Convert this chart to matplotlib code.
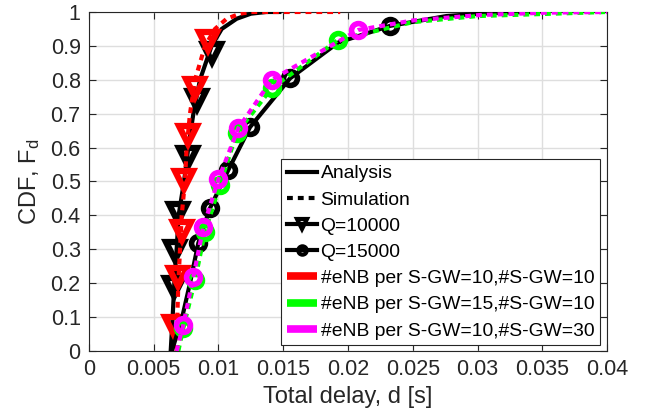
import matplotlib
matplotlib.use('Agg')
import matplotlib.pyplot as plt
from matplotlib.lines import Line2D

plt.rcParams['font.family'] = ['Liberation Sans', 'DejaVu Sans']
plt.rcParams['mathtext.fontset'] = 'custom'
plt.rcParams['mathtext.rm'] = 'Liberation Sans'
plt.rcParams['mathtext.it'] = 'Liberation Sans'

# Q=10000, analysis (black solid)
q10_ana_d = [0.00631, 0.00646, 0.00659, 0.00677, 0.00692, 0.00734, 0.00767, 0.00806, 0.00857,
             0.00947, 0.01025, 0.0114, 0.0125, 0.0137, 0.0147]
q10_ana_F = [0.0, 0.1, 0.2, 0.3, 0.4, 0.5, 0.6, 0.7, 0.8, 0.9, 0.95, 0.98, 0.995, 1.0, 1.0]
q10_ana_mk_d = [0.00947, 0.00831, 0.00767, 0.0069, 0.00664, 0.00656]
q10_ana_mk_F = [0.878, 0.740, 0.573, 0.406, 0.296, 0.19]

# Q=10000, simulation, #eNB=10, #S-GW=10 (red dotted)
q10_red_d = [0.00677, 0.00682, 0.0069, 0.00703, 0.00716, 0.00741, 0.00754, 0.0078, 0.00819,
             0.00896, 0.00973, 0.01063, 0.01166, 0.0125, 0.0194]
q10_red_F = [0.0, 0.1, 0.2, 0.3, 0.4, 0.5, 0.6, 0.7, 0.8, 0.9, 0.95, 0.98, 0.995, 1.0, 1.0]
q10_red_mk_d = [0.00921, 0.00819, 0.00767, 0.00736, 0.00716, 0.0069, 0.0066]
q10_red_mk_F = [0.915, 0.775, 0.637, 0.504, 0.355, 0.218, 0.075]

# Q=15000, analysis (black solid)
q15_ana_d = [0.0064, 0.0072, 0.0078, 0.00844, 0.00934, 0.01076, 0.01243, 0.01552, 0.01925,
             0.02324, 0.0276, 0.0302, 0.0327, 0.0347]
q15_ana_F = [0.0, 0.1, 0.2, 0.318, 0.421, 0.534, 0.66, 0.804, 0.91, 0.959, 0.988, 0.995, 0.999, 1.0]
q15_ana_mk_d = [0.00844, 0.00934, 0.01076, 0.01243, 0.01552, 0.02324]
q15_ana_mk_F = [0.318, 0.421, 0.534, 0.66, 0.804, 0.959]

# Q=15000, simulation, #eNB=15, #S-GW=10 (green dotted)
q15_grn_d = [0.0069, 0.00728, 0.00819, 0.00896, 0.01012, 0.0114, 0.01411, 0.01925, 0.025, 0.03, 0.04]
q15_grn_F = [0.0, 0.067, 0.209, 0.352, 0.49, 0.642, 0.775, 0.918, 0.97, 0.988, 1.0]
q15_grn_mk_d = [0.00728, 0.00819, 0.00896, 0.01012, 0.0114, 0.01411, 0.01925]
q15_grn_mk_F = [0.067, 0.209, 0.352, 0.49, 0.642, 0.775, 0.918]

# Q=15000, simulation, #eNB=10, #S-GW=30 (magenta dotted)
q15_mag_d = [0.00677, 0.00728, 0.00806, 0.00883, 0.00999, 0.01153, 0.01411, 0.0208, 0.025,
             0.0302, 0.0353, 0.04]
q15_mag_F = [0.0, 0.077, 0.219, 0.365, 0.506, 0.657, 0.80, 0.947, 0.975, 0.991, 0.998, 1.0]
q15_mag_mk_d = [0.00728, 0.00806, 0.00883, 0.00999, 0.01153, 0.01411, 0.0208]
q15_mag_mk_F = [0.077, 0.219, 0.365, 0.506, 0.657, 0.80, 0.947]

x_ticks = [0, 0.005, 0.01, 0.015, 0.02, 0.025, 0.03, 0.035, 0.04]
x_tick_labels = ['0', '0.005', '0.01', '0.015', '0.02', '0.025', '0.03', '0.035', '0.04']
y_ticks = [0, 0.1, 0.2, 0.3, 0.4, 0.5, 0.6, 0.7, 0.8, 0.9, 1]
y_tick_labels = ['0', '0.1', '0.2', '0.3', '0.4', '0.5', '0.6', '0.7', '0.8', '0.9', '1']

legend_labels = ['Analysis', 'Simulation', 'Q=10000', 'Q=15000',
                 '#eNB per S-GW=10,#S-GW=10', '#eNB per S-GW=15,#S-GW=10', '#eNB per S-GW=10,#S-GW=30']

RED = (1, 0, 0)
GREEN = (0, 1, 0)
MAGENTA = (1, 0, 1)
TXT = '#262626'
LW = 3
DOT = (0, (1.4, 1.2))

fig = plt.figure(figsize=(6.49, 4.19), dpi=100)
ax = fig.add_axes([0.1371, 0.1623, 0.7982, 0.8091])


def dotted(d, F, c):
    ax.plot(d, F, color=c, lw=LW, ls=DOT, dash_capstyle='butt', zorder=3)


def marks(d, F, c, m, ms, mew):
    ax.plot(d, F, ls='none', marker=m, ms=ms, mew=mew, mec=c, mfc='none', zorder=3)


# Q=10000
ax.plot(q10_ana_d, q10_ana_F, color='k', lw=LW, zorder=3)
marks(q10_ana_mk_d, q10_ana_mk_F, 'k', 'v', 13, 4.5)
dotted(q10_red_d, q10_red_F, RED)
marks(q10_red_mk_d, q10_red_mk_F, RED, 'v', 13, 4.5)

# Q=15000
ax.plot(q15_ana_d, q15_ana_F, color='k', lw=LW, zorder=3)
marks(q15_ana_mk_d, q15_ana_mk_F, 'k', 'o', 10, 4)
dotted(q15_grn_d, q15_grn_F, GREEN)
marks(q15_grn_mk_d, q15_grn_mk_F, GREEN, 'o', 10, 4)
dotted(q15_mag_d, q15_mag_F, MAGENTA)
marks(q15_mag_mk_d, q15_mag_mk_F, MAGENTA, 'o', 10, 4)

ax.set_xlim(0, 0.04)
ax.set_ylim(0, 1)
ax.set_xticks(x_ticks)
ax.set_xticklabels(x_tick_labels)
ax.set_yticks(y_ticks)
ax.set_yticklabels(y_tick_labels)
ax.tick_params(direction='in', length=5, width=0.8, top=True, right=True,
               labelsize=15.5, colors=TXT, pad=6)
ax.grid(True, color='#dedede', lw=1)
ax.set_axisbelow(True)
for s in ax.spines.values():
    s.set_color(TXT)
    s.set_linewidth(0.8)

ax.set_xlabel('Total delay, d [s]', fontsize=17, color=TXT, labelpad=4)
ax.set_ylabel(r'CDF, F$_\mathrm{d}$', fontsize=17, color=TXT, labelpad=6)

# legend proxies
handles = [
    Line2D([], [], color='k', lw=3),
    Line2D([], [], color='k', lw=3, ls=DOT, dash_capstyle='butt'),
    Line2D([], [], color='k', lw=3, marker='v', ms=7, mew=3, mfc='none', mec='k'),
    Line2D([], [], color='k', lw=3, marker='o', ms=6, mew=3, mfc='none', mec='k'),
    Line2D([], [], color=RED, lw=5.5, solid_capstyle='butt'),
    Line2D([], [], color=GREEN, lw=5.5, solid_capstyle='butt'),
    Line2D([], [], color=MAGENTA, lw=5.5, solid_capstyle='butt'),
]
leg = ax.legend(handles, legend_labels, loc='upper left',
                bbox_to_anchor=(281 / 649, 1 - 159 / 419), bbox_transform=fig.transFigure,
                borderaxespad=0, fontsize=13.9, handlelength=1.55, handletextpad=0.2,
                labelspacing=0.45, borderpad=0.3, fancybox=False, framealpha=1,
                edgecolor=TXT)
leg.get_frame().set_linewidth(0.8)
for t in leg.get_texts():
    t.set_color('k')

plt.savefig('out.png', dpi=100)
plt.close()
